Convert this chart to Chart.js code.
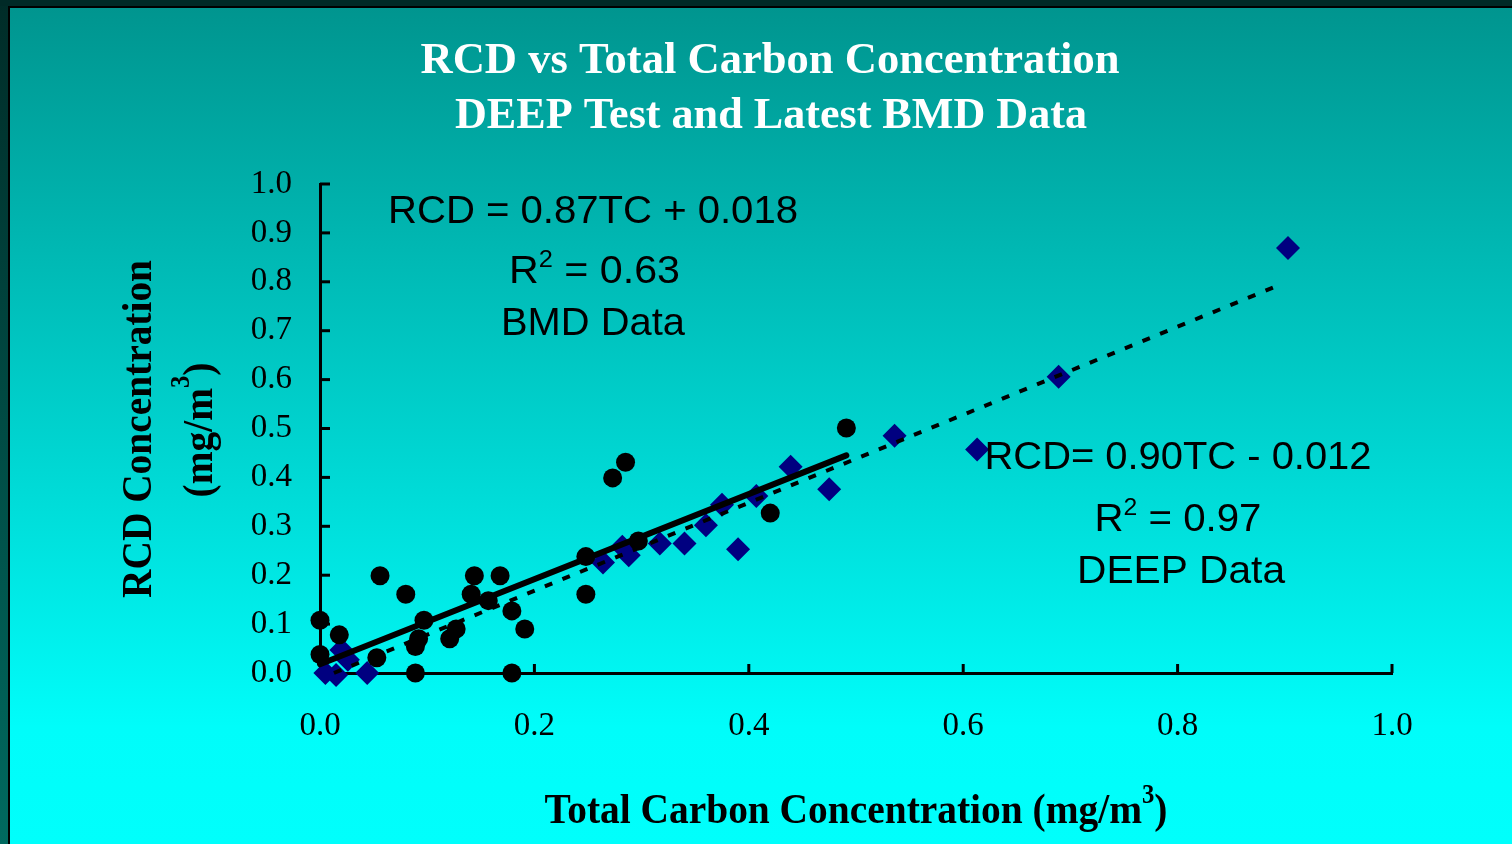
<!DOCTYPE html>
<html><head><meta charset="utf-8">
<script src="https://cdn.jsdelivr.net/npm/chart.js@4.4.1/dist/chart.umd.min.js"></script>
<style>
html,body{margin:0;padding:0;width:1512px;height:844px;overflow:hidden;background:#003a35;}
#frame{position:absolute;left:0;top:0;width:1512px;height:844px;background:linear-gradient(to bottom,#002c28,#006a60);}
#topstrip{position:absolute;left:0;top:0;width:1512px;height:6px;background:#002a27;}
#panel{position:absolute;left:8px;top:6px;right:0;bottom:0;border-left:2px solid #000;border-top:2px solid #000;background:linear-gradient(to bottom,#00958f 0%,#00fdfa 86%,#00fffc 100%);}
#c{position:absolute;left:0;top:0;}
</style></head>
<body>
<div id="frame"></div><div id="topstrip"></div><div id="panel"></div>
<canvas id="c" width="1512" height="844"></canvas>
<script>
// ---- data ----
const bmdX = [0.000, 0.000, 0.018, 0.053, 0.056, 0.080, 0.089, 0.089, 0.092, 0.097, 0.121, 0.127, 0.141, 0.144, 0.157, 0.168, 0.179, 0.179, 0.191, 0.248, 0.248, 0.273, 0.285, 0.297, 0.420, 0.491];
const bmdY = [0.108, 0.038, 0.078, 0.031, 0.199, 0.161, 0.054, 0.000, 0.070, 0.108, 0.070, 0.090, 0.161, 0.199, 0.148, 0.199, 0.127, 0.000, 0.090, 0.238, 0.161, 0.399, 0.431, 0.270, 0.327, 0.501];
const deepX = [0.005, 0.015, 0.020, 0.026, 0.044, 0.264, 0.282, 0.288, 0.317, 0.340, 0.360, 0.375, 0.390, 0.407, 0.439, 0.475, 0.536, 0.613, 0.689, 0.903];
const deepY = [0.000, -0.004, 0.047, 0.027, 0.000, 0.226, 0.258, 0.241, 0.265, 0.265, 0.302, 0.344, 0.253, 0.362, 0.422, 0.376, 0.485, 0.457, 0.606, 0.869];
const bmdTrendX = [0.000, 0.491];
const bmdTrendY = [0.018, 0.445];
const deepTrendX = [0.013, 0.891];
const deepTrendY = [0.000, 0.790];
const xTicks = [0.0, 0.2, 0.4, 0.6, 0.8, 1.0];
const yTicks = [0.0, 0.1, 0.2, 0.3, 0.4, 0.5, 0.6, 0.7, 0.8, 0.9, 1.0];
const titleLines = ['RCD vs Total Carbon Concentration', 'DEEP Test and Latest BMD Data'];
const yTitle = ['RCD Concentration', '(mg/m', '3', ')'];
const xTitle = ['Total Carbon Concentration (mg/m', '3', ')'];
const bmdNote = ['RCD = 0.87TC + 0.018', 'R', '2', ' = 0.63', 'BMD Data'];
const deepNote = ['RCD= 0.90TC - 0.012', 'R', '2', ' = 0.97', 'DEEP Data'];

const pts = (xs, ys) => xs.map((x, i) => ({x: x, y: ys[i]}));
const SERIF = "'Liberation Serif','Times New Roman',serif";
const SANS = "'Liberation Sans',Arial,sans-serif";

function drawParts(ctx, parts, cx, base, target, color, rotate) {
  ctx.save();
  ctx.fillStyle = color; ctx.textBaseline = 'alphabetic'; ctx.textAlign = 'left';
  let w = 0;
  const ws = parts.map(p => { ctx.font = p.font; const m = ctx.measureText(p.t).width; w += m; return m; });
  const sx = target ? target / w : 1;
  ctx.translate(cx, base);
  if (rotate) ctx.rotate(-Math.PI / 2);
  ctx.scale(sx, 1);
  let x = -w / 2;
  parts.forEach((p, i) => { ctx.font = p.font; ctx.fillText(p.t, x, -(p.dy || 0)); x += ws[i]; });
  ctx.restore();
}

const decor = {
  id: 'decor',
  beforeDatasetsDraw(chart) {
    const ctx = chart.ctx, xs = chart.scales.x, ys = chart.scales.y;
    ctx.save();
    ctx.strokeStyle = '#000'; ctx.lineWidth = 3; ctx.lineCap = 'butt';
    ys.ticks.forEach(t => { if (t.value === 0) return; const p = ys.getPixelForValue(t.value); ctx.beginPath(); ctx.moveTo(xs.left, p); ctx.lineTo(xs.left + 10, p); ctx.stroke(); });
    xs.ticks.forEach(t => { if (t.value === 0) return; const p = xs.getPixelForValue(t.value); ctx.beginPath(); ctx.moveTo(p, ys.bottom); ctx.lineTo(p, ys.bottom - 9); ctx.stroke(); });
    ctx.restore();
  },
  afterDraw(chart) {
    const ctx = chart.ctx;
    const tf = 'bold 44px ' + SERIF;
    drawParts(ctx, [{t: titleLines[0], font: tf}], 770, 73, 699, '#fff');
    drawParts(ctx, [{t: titleLines[1], font: tf}], 771, 128, 632, '#fff');
    const af = 'bold 43px ' + SERIF, sf = 'bold 27px ' + SERIF;
    drawParts(ctx, [{t: yTitle[0], font: af}], 151, 429, 338, '#000', true);
    drawParts(ctx, [{t: yTitle[1], font: af}, {t: yTitle[2], font: sf, dy: 23}, {t: yTitle[3], font: af}], 212, 430, 135, '#000', true);
    drawParts(ctx, [{t: xTitle[0], font: af}, {t: xTitle[1], font: sf, dy: 20}, {t: xTitle[2], font: af}], 856, 823, 623, '#000');
    const nf = '39px ' + SANS, nsf = '24px ' + SANS;
    drawParts(ctx, [{t: bmdNote[0], font: nf}], 593, 223, 410, '#000');
    drawParts(ctx, [{t: bmdNote[1], font: nf}, {t: bmdNote[2], font: nsf, dy: 16}, {t: bmdNote[3], font: nf}], 594.5, 283, 171, '#000');
    drawParts(ctx, [{t: bmdNote[4], font: nf}], 593, 335, 184, '#000');
    drawParts(ctx, [{t: deepNote[0], font: nf}], 1178, 469, 387, '#000');
    drawParts(ctx, [{t: deepNote[1], font: nf}, {t: deepNote[2], font: nsf, dy: 16}, {t: deepNote[3], font: nf}], 1178, 531, 167, '#000');
    drawParts(ctx, [{t: deepNote[4], font: nf}], 1181, 583, 208, '#000');
  }
};

new Chart(document.getElementById('c'), {
  type: 'scatter',
  data: {
    datasets: [
      {label: 'BMD trend', data: pts(bmdTrendX, bmdTrendY), showLine: true, pointRadius: 0, borderColor: '#000', borderWidth: 6, borderCapStyle: 'round', order: 0, clip: false},
      {label: 'DEEP trend', data: pts(deepTrendX, deepTrendY), showLine: true, pointRadius: 0, borderColor: '#000', borderWidth: 4, borderDash: [8, 11], order: 1, clip: false},
      {label: 'BMD Data', data: pts(bmdX, bmdY), pointStyle: 'circle', pointRadius: 9.5, backgroundColor: '#000', borderWidth: 0, order: 2, clip: false},
      {label: 'DEEP Data', data: pts(deepX, deepY), pointStyle: 'rectRot', pointRadius: 12, backgroundColor: '#000080', borderColor: '#000080', borderWidth: 0, order: 3, clip: false}
    ]
  },
  options: {
    responsive: false, animation: false,
    layout: {padding: {left: 0, top: 184, right: 120, bottom: 0}},
    plugins: {legend: {display: false}, tooltip: {enabled: false}, title: {display: false}},
    scales: {
      x: {
        type: 'linear', min: 0, max: 1,
        afterBuildTicks: s => { s.ticks = xTicks.map(v => ({value: v})); },
        afterFit: s => { s.height = 171; },
        grid: {display: true, drawOnChartArea: false, drawTicks: false},
        border: {display: true, color: '#000', width: 3},
        ticks: {font: {family: SERIF, size: 33}, color: '#000', padding: 34, callback: v => Number(v).toFixed(1), maxRotation: 0, autoSkip: false}
      },
      y: {
        type: 'linear', min: 0, max: 1,
        afterBuildTicks: s => { s.ticks = yTicks.map(v => ({value: v})); },
        afterFit: s => { s.width = 320; },
        grid: {display: true, drawOnChartArea: false, drawTicks: false},
        border: {display: true, color: '#000', width: 3},
        ticks: {font: {family: SERIF, size: 33}, color: '#000', padding: 28, callback: v => Number(v).toFixed(1), autoSkip: false}
      }
    }
  },
  plugins: [decor]
});
</script>
</body></html>
